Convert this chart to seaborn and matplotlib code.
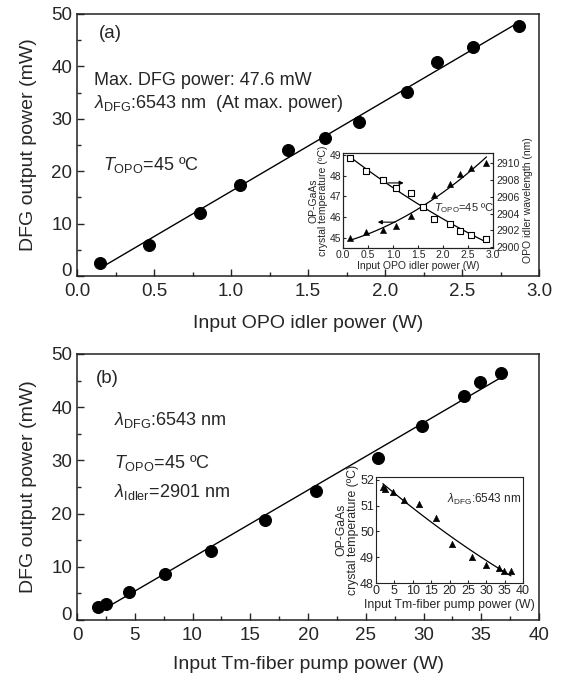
import numpy as np
import pandas as pd
import matplotlib
matplotlib.use('Agg')
import matplotlib.pyplot as plt
from matplotlib.ticker import MultipleLocator
from matplotlib.transforms import ScaledTranslation
import seaborn as sns

# panel (a): DFG power vs OPO idler power
idler_w = [0.15, 0.47, 0.80, 1.06, 1.37, 1.61, 1.83, 2.14, 2.34, 2.57, 2.87]
dfg_a = [2.4, 5.9, 12.1, 17.3, 24.1, 26.4, 29.3, 35.1, 40.9, 43.7, 47.7]
# inset (a): crystal temperature and idler wavelength
temp_a = [45.0, 45.25, 45.35, 45.55, 46.05, 46.5, 47.05, 47.6, 48.1, 48.35, 48.6]
wl_a = [2910.6, 2909.05, 2908.0, 2907.0, 2906.4, 2904.8, 2903.3, 2902.7, 2901.9, 2901.5, 2900.95]

# panel (b): DFG power vs Tm-fiber pump power
pump_w = [1.85, 2.55, 4.5, 7.6, 11.6, 16.3, 20.7, 26.1, 29.9, 33.5, 34.9, 36.7]
dfg_b = [2.5, 3.0, 5.3, 8.6, 13.0, 18.7, 24.3, 30.4, 36.5, 42.1, 44.7, 46.4]
# inset (b): crystal temperature
temp_b = [51.73, 51.65, 51.53, 51.23, 51.05, 50.52, 49.52, 49.0, 48.7, 48.58, 48.48, 48.48]

df_a = pd.DataFrame({'x': idler_w, 'p': dfg_a, 't': temp_a, 'wl': wl_a})
df_b = pd.DataFrame({'x': pump_w, 'p': dfg_b, 't': temp_b})

sns.set_style('ticks')
plt.rcParams['font.family'] = ['Liberation Sans', 'DejaVu Sans']
plt.rcParams['mathtext.fontset'] = 'custom'
plt.rcParams['mathtext.rm'] = 'Liberation Sans'
plt.rcParams['mathtext.it'] = 'Liberation Sans:italic'
plt.rcParams['axes.linewidth'] = 1.1
plt.rcParams['axes.edgecolor'] = '#222222'

fig = plt.figure(figsize=(5.63, 6.79), dpi=100)

ax_a = fig.add_axes([0.1368, 0.5935, 0.8206, 0.3859])
ax_b = fig.add_axes([0.1368, 0.0869, 0.8206, 0.3918])
in_a = fig.add_axes([0.6092, 0.6348, 0.2664, 0.1399])
in_b = fig.add_axes([0.6679, 0.1409, 0.2611, 0.1566])


def style_main(ax, xmaj, xmin):
    ax.xaxis.set_major_locator(MultipleLocator(xmaj))
    ax.xaxis.set_minor_locator(MultipleLocator(xmin))
    ax.yaxis.set_major_locator(MultipleLocator(10))
    ax.yaxis.set_minor_locator(MultipleLocator(5))
    ax.tick_params(which='both', direction='in', labelsize=13.5, width=1.0)
    ax.tick_params(which='major', length=5)
    ax.tick_params(which='minor', length=3)
    ax.tick_params(axis='x', pad=5)
    ax.set_ylabel('DFG output power (mW)', fontsize=14, labelpad=10)


# ---- panel (a)
sns.regplot(data=df_a, x='x', y='p', ax=ax_a, scatter=False, ci=None,
            color='black', line_kws={'lw': 1.0})
sns.scatterplot(data=df_a, x='x', y='p', ax=ax_a, color='black', s=75,
                edgecolor='black', zorder=3)
ax_a.set_xlim(0, 3.0)
ax_a.set_ylim(0, 50)
ax_a.xaxis.set_major_formatter(matplotlib.ticker.FormatStrFormatter('%.1f'))
style_main(ax_a, 0.5, 0.25)
ax_a.set_xlabel('Input OPO idler power (W)', fontsize=14, labelpad=11)
ax_a.text(0.14, 46.3, '(a)', fontsize=13.5, va='center')
ax_a.text(0.11, 37.4, 'Max. DFG power: 47.6 mW', fontsize=13, va='center')
ax_a.text(0.11, 33.0, r'$\lambda_{\rm DFG}$:6543 nm  (At max. power)', fontsize=13, va='center')
ax_a.text(0.17, 21.2, r'$T_{\rm OPO}$=45 ºC', fontsize=13, va='center')

# inset (a)
in_a2 = in_a.twinx()
sns.regplot(data=df_a, x='x', y='t', ax=in_a, scatter=False, ci=None, order=2,
            color='black', line_kws={'lw': 0.9})
sns.scatterplot(data=df_a, x='x', y='t', ax=in_a, marker='^', color='black',
                s=20, edgecolor='black', zorder=3)
sns.regplot(data=df_a, x='x', y='wl', ax=in_a2, scatter=False, ci=None, order=2,
            color='black', line_kws={'lw': 0.9})
sns.scatterplot(data=df_a, x='x', y='wl', ax=in_a2, marker='s', facecolor='white',
                s=14, edgecolor='black', linewidth=0.8, zorder=3)
in_a.set_xlim(0, 3.0)
in_a.set_ylim(44.5, 49.1)
in_a2.set_ylim(2899.9, 2911.2)
in_a.xaxis.set_major_locator(MultipleLocator(0.5))
in_a.xaxis.set_major_formatter(matplotlib.ticker.FormatStrFormatter('%.1f'))
in_a.yaxis.set_major_locator(MultipleLocator(1))
in_a2.yaxis.set_major_locator(MultipleLocator(2))
for a in (in_a, in_a2):
    a.tick_params(which='both', direction='in', labelsize=7.5, length=2.5, width=0.8, pad=1.5)
in_a2.tick_params(axis='y', pad=2.5)
in_a.set_xlabel('Input OPO idler power (W)', fontsize=7.5, labelpad=1)
in_a.set_ylabel('OP-GaAs\ncrystal temperature (ºC)', fontsize=7.5, labelpad=1, linespacing=0.95)
in_a2.set_ylabel('OPO idler wavelength (nm)', fontsize=7.5, labelpad=2)
in_a.annotate('', xy=(1.27, 47.65), xytext=(0.84, 47.65),
              arrowprops=dict(arrowstyle='-|>', lw=0.8, color='black', mutation_scale=6))
in_a.annotate('', xy=(0.64, 45.75), xytext=(1.10, 45.75),
              arrowprops=dict(arrowstyle='-|>', lw=0.8, color='black', mutation_scale=6))
in_a.text(1.83, 46.45, r'$T_{\rm OPO}$=45 ºC', fontsize=8, va='center')

# ---- panel (b)
sns.regplot(data=df_b, x='x', y='p', ax=ax_b, scatter=False, ci=None,
            color='black', line_kws={'lw': 1.0})
sns.scatterplot(data=df_b, x='x', y='p', ax=ax_b, color='black', s=75,
                edgecolor='black', zorder=3)
ax_b.set_xlim(0, 40)
ax_b.set_ylim(0, 50)
style_main(ax_b, 5, 2.5)
ax_b.set_xlabel('Input Tm-fiber pump power (W)', fontsize=14, labelpad=9)
ax_b.text(1.6, 45.4, '(b)', fontsize=13.5, va='center')
ax_b.text(3.2, 37.6, r'$\lambda_{\rm DFG}$:6543 nm', fontsize=13, va='center')
ax_b.text(3.2, 29.5, r'$T_{\rm OPO}$=45 ºC', fontsize=13, va='center')
ax_b.text(3.2, 24.1, r'$\lambda_{\rm Idler}$=2901 nm', fontsize=13, va='center')

# inset (b)
sns.regplot(data=df_b, x='x', y='t', ax=in_b, scatter=False, ci=None, order=2,
            color='black', line_kws={'lw': 0.9})
sns.scatterplot(data=df_b, x='x', y='t', ax=in_b, marker='^', color='black',
                s=22, edgecolor='black', zorder=3)
in_b.set_xlim(0, 40)
in_b.set_ylim(48, 52.1)
in_b.xaxis.set_major_locator(MultipleLocator(5))
in_b.yaxis.set_major_locator(MultipleLocator(1))
in_b.tick_params(which='both', direction='in', labelsize=9, length=2.5, width=0.8, pad=1.5)
in_b.set_xlabel('Input Tm-fiber pump power (W)', fontsize=8.8, labelpad=1)
in_b.set_ylabel('OP-GaAs\ncrystal temperature (ºC)', fontsize=8.8, labelpad=1, linespacing=0.95)
in_b.text(19.3, 51.23, r'$\lambda_{\rm DFG}$:6543 nm', fontsize=8.5, va='center')

for a in (in_a, in_a2, in_b):
    for s in a.spines.values():
        s.set_linewidth(0.8)

# lift the "0" y label a little, as in the original
fig.canvas.draw()
for ax in (ax_a, ax_b):
    for t in ax.yaxis.get_major_ticks():
        if abs(t.get_loc()) < 1e-9:
            t.label1.set_transform(t.label1.get_transform()
                                   + ScaledTranslation(0, 5 / 72, fig.dpi_scale_trans))

fig.savefig('out.png', dpi=100)
